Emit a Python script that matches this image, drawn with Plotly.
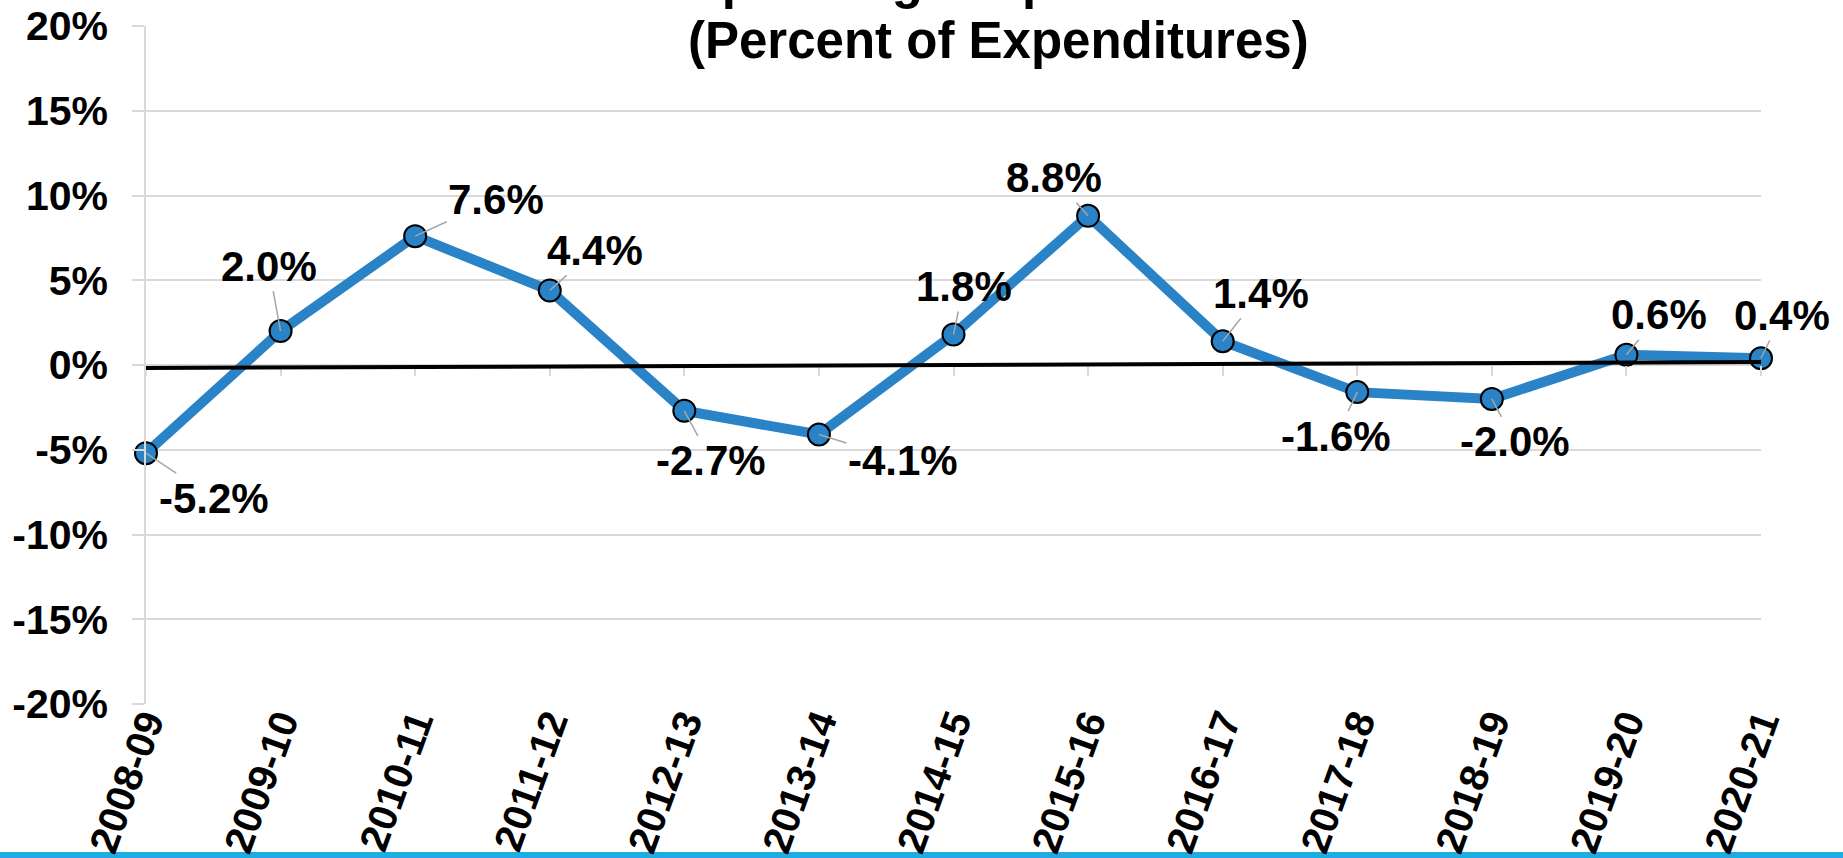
import plotly.graph_objects as go

# ---------------- data ----------------
categories = ["2008-09", "2009-10", "2010-11", "2011-12", "2012-13", "2013-14", "2014-15",
              "2015-16", "2016-17", "2017-18", "2018-19", "2019-20", "2020-21"]
values = [-5.2, 2.0, 7.6, 4.4, -2.7, -4.1, 1.8, 8.8, 1.4, -1.6, -2.0, 0.6, 0.4]
y_tick_values = [-20, -15, -10, -5, 0, 5, 10, 15, 20]
y_tick_labels = ["-20%", "-15%", "-10%", "-5%", "0%", "5%", "10%", "15%", "20%"]
title_line1 = "Operating Surplus/Deficit"
title_line2 = "(Percent of Expenditures)"

# label placement offsets (pixels, relative to each point)
label_offsets = [(68, 45), (-12, -65), (81, -37), (45, -40), (27, 50), (84, 26), (10, -48),
                 (-34, -38), (38, -48), (-21, 44), (23, 43), (33, -40), (21, -43)]

FONT = "Liberation Sans, Arial, sans-serif"
LINE_BLUE = "#2983C6"
GRID = "#d9d9d9"

fig = go.Figure()

# invisible trace to carry the secondary x-axis (tick marks at zero)
fig.add_trace(go.Scatter(x=categories, y=values, xaxis="x2", yaxis="y", mode="markers",
                         marker=dict(opacity=0), hoverinfo="skip", showlegend=False))

fig.add_trace(go.Scatter(
    x=categories, y=values, mode="lines+markers",
    line=dict(color=LINE_BLUE, width=10),
    marker=dict(size=22, color=LINE_BLUE, line=dict(color="black", width=2)),
    cliponaxis=False, showlegend=False, hoverinfo="skip",
))

annotations = []
for c, v, (dx, dy) in zip(categories, values, label_offsets):
    annotations.append(dict(
        x=c, y=v, xref="x", yref="y", text=f"{v:.1f}%",
        showarrow=True, arrowhead=0, arrowwidth=1.5, arrowcolor="#a6a6a6",
        ax=dx, ay=dy, standoff=0,
        font=dict(family=FONT, size=42, color="black", weight="bold"),
    ))

annotations.append(dict(
    x=0.3307, y=1, xref="paper", yref="paper", xanchor="left", yanchor="top",
    yshift=76, text=title_line1, showarrow=False,
    font=dict(family=FONT, size=51, color="black", weight="bold"),
))
annotations.append(dict(
    x=0.5276, y=1, xref="paper", yref="paper", xanchor="center", yanchor="top",
    yshift=16, text=title_line2, showarrow=False,
    font=dict(family=FONT, size=51, color="black", weight="bold"),
))

shapes = [
    # hand-drawn zero line
    dict(type="line", xref="x", yref="y", x0=-0.14, x1=12.15, y0=-0.18, y1=0.18,
         line=dict(color="black", width=4), layer="above"),
    # blue band at the bottom of the slide
    dict(type="rect", xref="paper", yref="paper", x0=-0.2, x1=1.2, y0=-0.2183, y1=-0.4,
         fillcolor="#1DADE2", line=dict(width=0), layer="below"),
]

fig.update_layout(
    width=1843, height=858,
    margin=dict(l=146, r=82, t=26, b=154, autoexpand=False),
    paper_bgcolor="white", plot_bgcolor="white",
    font=dict(family=FONT, color="black"),
    annotations=annotations, shapes=shapes,
    xaxis=dict(type="category", categoryorder="array", categoryarray=categories,
               range=[0, len(categories) - 1], showgrid=False, zeroline=False,
               showline=False, ticks="", tickangle=-70, ticklabelstandoff=-14,
               tickfont=dict(family=FONT, size=40, color="black", weight="bold")),
    xaxis2=dict(type="category", categoryorder="array", categoryarray=categories,
                range=[0, len(categories) - 1], overlaying="x", anchor="free", position=0.5,
                side="bottom", showgrid=False, zeroline=False, showline=False,
                ticks="outside", ticklen=10, tickwidth=1.5, tickcolor=GRID,
                showticklabels=False),
    yaxis=dict(range=[-20, 20], tickmode="array", tickvals=y_tick_values, ticktext=y_tick_labels,
               showgrid=True, gridcolor=GRID, gridwidth=1.5, zeroline=False,
               showline=True, linecolor=GRID, linewidth=1.5,
               ticks="outside", ticklen=12, tickwidth=1.5, tickcolor=GRID,
               ticklabelstandoff=16,
               tickfont=dict(family=FONT, size=41, color="black", weight="bold")),
)

fig.write_html("out.html", config={"displayModeBar": False},
               post_script="document.body.style.margin='0';document.body.style.overflow='hidden';")
